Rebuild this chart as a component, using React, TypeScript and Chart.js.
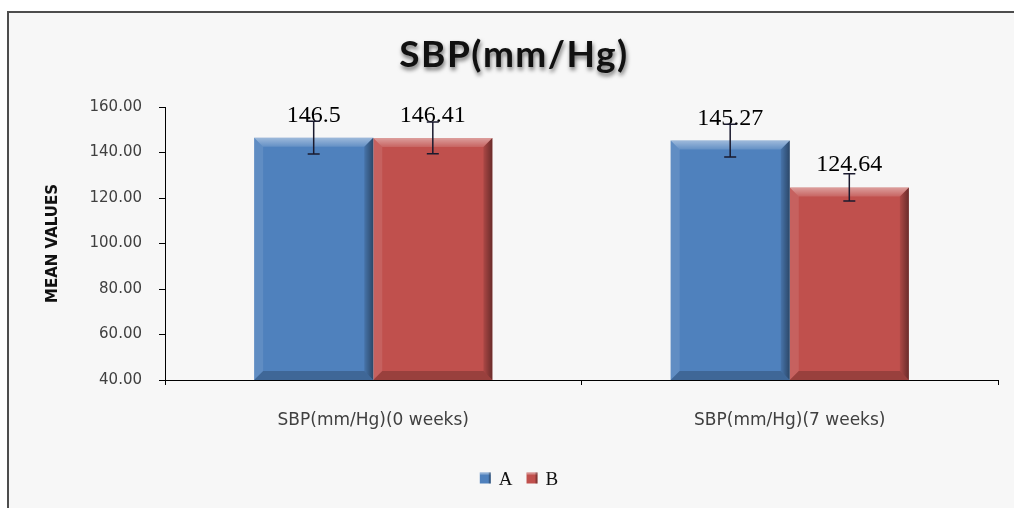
import React, { useEffect, useRef } from 'react';
import { Chart, registerables } from 'chart.js';

Chart.register(...registerables);

const TITLE = 'SBP(mm/Hg)';
const Y_TITLE = 'MEAN VALUES';
const CATEGORIES = ['SBP(mm/Hg)(0 weeks)', 'SBP(mm/Hg)(7 weeks)'];
const SERIES_NAMES = ['A', 'B'];
const SERIES_A = [146.5, 145.27];
const SERIES_B = [146.41, 124.64];
const ERRORS_A = [7.2, 7.2];
const ERRORS_B = [7.0, 6.0];
const SERIES_COLORS = ['#4f81bd', '#c0504d'];
const Y_MIN = 40;
const Y_MAX = 160;
const Y_STEP = 20;

const ERRORS = [ERRORS_A, ERRORS_B];

const decorPlugin = {
  id: 'decor',
  beforeDraw(chart: any) {
    const { ctx, width, height } = chart;
    ctx.save();
    ctx.fillStyle = '#ffffff';
    ctx.fillRect(0, 0, width, height);
    ctx.fillStyle = '#f7f7f7';
    ctx.fillRect(8, 12, width - 8, height - 12);
    ctx.strokeStyle = '#4d4d4d';
    ctx.lineWidth = 2;
    ctx.beginPath();
    ctx.moveTo(8, height);
    ctx.lineTo(8, 12);
    ctx.lineTo(width, 12);
    ctx.stroke();
    // title with shadow
    ctx.font = 'bold 37px Lato';
    ctx.textAlign = 'center';
    ctx.textBaseline = 'alphabetic';
    ctx.fillStyle = '#111111';
    ctx.shadowColor = 'rgba(0,0,0,0.55)';
    ctx.shadowBlur = 4;
    ctx.shadowOffsetX = 1;
    ctx.shadowOffsetY = 3;
    (ctx as any).letterSpacing = '1.5px';
    ctx.fillText(TITLE, 514, 67);
    ctx.restore();
  },
  afterDatasetsDraw(chart: any) {
    const { ctx, chartArea } = chart;
    const yScale = chart.scales.y;
    ctx.save();
    chart.data.datasets.forEach((ds: any, di: number) => {
      const meta = chart.getDatasetMeta(di);
      meta.data.forEach((bar: any, i: number) => {
        const l = bar.x - bar.width / 2;
        const r = bar.x + bar.width / 2;
        const t = bar.y;
        const b = Math.min(bar.base, chartArea.bottom);
        const bv = 9;
        const poly = (pts: number[][], fill: any) => {
          ctx.beginPath();
          ctx.moveTo(pts[0][0], pts[0][1]);
          for (let k = 1; k < pts.length; k++) ctx.lineTo(pts[k][0], pts[k][1]);
          ctx.closePath();
          ctx.fillStyle = fill;
          ctx.fill();
        };
        // top bevel
        const gt = ctx.createLinearGradient(0, t, 0, t + bv);
        gt.addColorStop(0, 'rgba(255,255,255,0.45)');
        gt.addColorStop(1, 'rgba(255,255,255,0.12)');
        poly([[l, t], [r, t], [r - bv, t + bv], [l + bv, t + bv]], gt);
        // left bevel
        poly([[l, t], [l + bv, t + bv], [l + bv, b - bv], [l, b]], 'rgba(255,255,255,0.1)');
        // right bevel
        const gr = ctx.createLinearGradient(r - bv, 0, r, 0);
        gr.addColorStop(0, 'rgba(0,0,0,0.1)');
        gr.addColorStop(1, 'rgba(0,0,0,0.45)');
        poly([[r, t], [r, b], [r - bv, b - bv], [r - bv, t + bv]], gr);
        // bottom bevel
        poly([[l, b], [r, b], [r - bv, b - bv], [l + bv, b - bv]], 'rgba(0,0,0,0.2)');

        const v = ds.data[i];
        // value label
        ctx.font = '24px "Liberation Serif"';
        ctx.textAlign = 'center';
        ctx.textBaseline = 'alphabetic';
        ctx.fillStyle = '#000000';
        ctx.fillText(String(v), bar.x, t - 16);
        // error bar
        const e = ERRORS[di][i];
        const yTop = yScale.getPixelForValue(v + e);
        const yBot = yScale.getPixelForValue(v - e);
        ctx.strokeStyle = '#1a1a2e';
        ctx.lineWidth = 1.5;
        ctx.beginPath();
        ctx.moveTo(bar.x, yTop);
        ctx.lineTo(bar.x, yBot);
        ctx.moveTo(bar.x - 6, yTop);
        ctx.lineTo(bar.x + 6, yTop);
        ctx.moveTo(bar.x - 6, yBot);
        ctx.lineTo(bar.x + 6, yBot);
        ctx.stroke();
      });
    });
    ctx.restore();
  },
  afterDraw(chart: any) {
    const { ctx } = chart;
    ctx.save();
    ctx.font = '19px "Liberation Serif"';
    ctx.textBaseline = 'alphabetic';
    ctx.textAlign = 'left';
    const box = 11;
    const gap = 8;
    const spacing = 14;
    const items = chart.data.datasets.map((ds: any) => ({
      label: ds.label,
      color: ds.backgroundColor,
      w: box + gap + ctx.measureText(ds.label).width,
    }));
    const total = items.reduce((s: number, it: any) => s + it.w, 0) + spacing * (items.length - 1);
    let x = 519 - total / 2;
    const cy = 478;
    items.forEach((it: any) => {
      ctx.fillStyle = it.color;
      ctx.fillRect(x, cy - box / 2, box, box);
      ctx.fillStyle = 'rgba(255,255,255,0.35)';
      ctx.fillRect(x, cy - box / 2, box, 2);
      ctx.fillStyle = 'rgba(0,0,0,0.3)';
      ctx.fillRect(x + box - 2, cy - box / 2, 2, box);
      ctx.fillStyle = '#111111';
      ctx.fillText(it.label, x + box + gap, cy + 7);
      x += it.w + spacing;
    });
    ctx.restore();
  },
};

export default function App() {
  const canvasRef = useRef<HTMLCanvasElement | null>(null);

  useEffect(() => {
    const canvas = canvasRef.current;
    if (!canvas) return;
    const chart = new Chart(canvas, {
      type: 'bar',
      data: {
        labels: CATEGORIES,
        datasets: [
          {
            label: SERIES_NAMES[0],
            data: SERIES_A,
            backgroundColor: SERIES_COLORS[0],
            borderWidth: 0,
          },
          {
            label: SERIES_NAMES[1],
            data: SERIES_B,
            backgroundColor: SERIES_COLORS[1],
            borderWidth: 0,
          },
        ],
      },
      options: {
        responsive: false,
        animation: false,
        devicePixelRatio: 1,
        layout: { padding: { left: 0, right: 16, top: 107, bottom: 68 } },
        plugins: {
          legend: { display: false },
          title: { display: false },
          tooltip: { enabled: false },
        },
        datasets: {
          bar: { categoryPercentage: 0.572, barPercentage: 1.0 },
        },
        scales: {
          x: {
            grid: {
              display: true,
              offset: true,
              drawOnChartArea: false,
              drawTicks: true,
              tickLength: 5,
              color: '#000000',
            },
            border: { display: true, color: '#000000', width: 1 },
            ticks: {
              color: '#404040',
              font: { family: 'DejaVu Sans', size: 17 },
              padding: 25,
              maxRotation: 0,
            },
            afterFit: (scale: any) => {
              scale.height = 60;
            },
          },
          y: {
            min: Y_MIN,
            max: Y_MAX,
            grid: {
              display: true,
              drawOnChartArea: false,
              drawTicks: true,
              tickLength: 6,
              color: '#000000',
            },
            border: { display: true, color: '#000000', width: 1 },
            ticks: {
              stepSize: Y_STEP,
              color: '#404040',
              font: { family: 'DejaVu Sans', size: 15 },
              padding: 17,
              callback: (v: any) => Number(v).toFixed(2),
            },
            title: {
              display: true,
              text: Y_TITLE,
              color: '#111111',
              font: { family: 'DejaVu Sans', size: 15, weight: 'bold' },
              padding: { top: 44, bottom: 0 },
            },
            afterFit: (scale: any) => {
              scale.width = 165;
            },
          },
        },
      },
      plugins: [decorPlugin],
    });
    return () => chart.destroy();
  }, []);

  return (
    <div style={{ position: 'absolute', left: 0, top: 0, width: 1014, height: 508, overflow: 'hidden' }}>
      <canvas ref={canvasRef} width={1014} height={508} style={{ display: 'block', width: 1014, height: 508 }} />
    </div>
  );
}
